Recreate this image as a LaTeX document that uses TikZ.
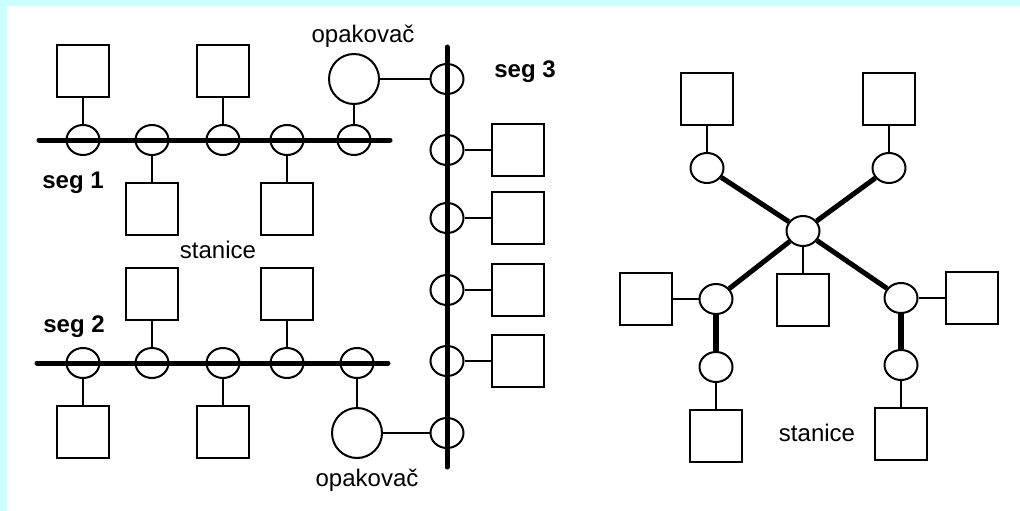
\documentclass[tikz,border=0pt]{standalone}
\usepackage{fontspec}
\setmainfont{Liberation Sans}
\usetikzlibrary{positioning,shapes.geometric}
\definecolor{bgcyan}{RGB}{204,255,255}

\begin{document}
\begin{tikzpicture}[x=1pt, y=-1pt, node distance=26pt and 26pt,
  every node/.style={font=\fontsize{24}{28}\selectfont},
  tap/.style={ellipse,draw,line width=2pt,minimum width=33pt,minimum height=30pt,inner sep=0pt},
  stn/.style={rectangle,draw,line width=2pt,minimum size=52pt,inner sep=0pt},
  rep/.style={circle,draw,line width=2pt,minimum size=50pt,inner sep=0pt},
  bus/.style={line width=5pt,line cap=round},
  trunk/.style={line width=5pt},
  wire/.style={line width=2pt}]
  \useasboundingbox (0,0) rectangle (1020,511);
  \fill[bgcyan] (0,0) rectangle (1020,511);
  \fill[white] (7,6) rectangle (1020,511);

  % seg 1
  \coordinate (s1l) at (39,140);
  \coordinate (s1r) at (390,140);
  \node[tap] (s1t1) at (83,140) {};
  \node[tap] (s1t2) at (152,140) {};
  \node[tap] (s1t3) at (223,140) {};
  \node[tap] (s1t4) at (287,140) {};
  \node[tap] (s1t5) at (354,140) {};
  \node[stn] (s1a) [above=of s1t1] {};
  \node[stn] (s1b) [below=of s1t2] {};
  \node[stn] (s1c) [above=of s1t3] {};
  \node[stn] (s1d) [below=of s1t4] {};
  \node[rep] (rep1) at (354,79) {};
  \draw[bus] (s1l) -- (s1r);
  \draw[wire] (s1a) -- (s1t1);
  \draw[wire] (s1b) -- (s1t2);
  \draw[wire] (s1c) -- (s1t3);
  \draw[wire] (s1d) -- (s1t4);
  \draw[wire] (rep1) -- (s1t5);
  \node[font=\fontsize{24}{28}\selectfont\bfseries] (seg1) at (73,183) {seg 1};
  \node (st1) at (218,250) {stanice};

  % seg 2
  \coordinate (s2l) at (37,363);
  \coordinate (s2r) at (388,363);
  \node[tap] (s2t1) at (83,363) {};
  \node[tap] (s2t2) at (152,363) {};
  \node[tap] (s2t3) at (223,363) {};
  \node[tap] (s2t4) at (287,363) {};
  \node[tap] (s2t5) at (357,363) {};
  \node[stn] (s2a) [below=of s2t1] {};
  \node[stn] (s2b) [above=of s2t2] {};
  \node[stn] (s2c) [below=of s2t3] {};
  \node[stn] (s2d) [above=of s2t4] {};
  \node[rep] (rep2) at (357,433) {};
  \draw[bus] (s2l) -- (s2r);
  \draw[wire] (s2a) -- (s2t1);
  \draw[wire] (s2b) -- (s2t2);
  \draw[wire] (s2c) -- (s2t3);
  \draw[wire] (s2d) -- (s2t4);
  \draw[wire] (rep2) -- (s2t5);
  \node[font=\fontsize{24}{28}\selectfont\bfseries] (seg2) at (74,327) {seg 2};

  % seg 3
  \coordinate (s3top) at (447,47);
  \coordinate (s3bot) at (447,467);
  \node[tap] (s3t1) at (447,79) {};
  \node[tap] (s3t2) at (447,150) {};
  \node[tap] (s3t3) at (447,218) {};
  \node[tap] (s3t4) at (447,290) {};
  \node[tap] (s3t5) at (447,361) {};
  \node[tap] (s3t6) at (447,433) {};
  \node[stn] (s3a) [right=of s3t2] {};
  \node[stn] (s3b) [right=of s3t3] {};
  \node[stn] (s3c) [right=of s3t4] {};
  \node[stn] (s3d) [right=of s3t5] {};
  \draw[bus] (s3top) -- (s3bot);
  \draw[wire] (rep1) -- (s3t1);
  \draw[wire] (s3t2) -- (s3a);
  \draw[wire] (s3t3) -- (s3b);
  \draw[wire] (s3t4) -- (s3c);
  \draw[wire] (s3t5) -- (s3d);
  \draw[wire] (rep2) -- (s3t6);
  \node[font=\fontsize{24}{28}\selectfont\bfseries] (seg3) at (525,72) {seg 3};
  \node (op1) at (363,36) {opakovač};
  \node (op2) at (367,480) {opakovač};

  % hvezda
  \node[tap] (hub) at (803,231) {};
  \node[tap] (tl) at (707,168) {};
  \node[tap] (tr) at (889,168) {};
  \node[tap] (ll) at (716,299) {};
  \node[tap] (lr) at (901,298) {};
  \node[tap] (ll2) at (716,367) {};
  \node[tap] (lr2) at (901,365) {};
  \node[stn] (tla) [above=of tl] {};
  \node[stn] (tra) [above=of tr] {};
  \node[stn] (hba) [below=of hub] {};
  \node[stn] (lla) [left=of ll] {};
  \node[stn] (lra) [right=of lr] {};
  \node[stn] (ll2a) [below=of ll2] {};
  \node[stn] (lr2a) [below=of lr2] {};
  \draw[trunk] (hub) -- (tl);
  \draw[trunk] (hub) -- (tr);
  \draw[trunk] (hub) -- (ll);
  \draw[trunk] (hub) -- (lr);
  \draw[trunk, line width=6pt] (ll) -- (ll2);
  \draw[trunk, line width=6pt] (lr) -- (lr2);
  \draw[wire] (tla) -- (tl);
  \draw[wire] (tra) -- (tr);
  \draw[wire] (hub) -- (hba);
  \draw[wire] (lla) -- (ll);
  \draw[wire] (lr) -- (lra);
  \draw[wire] (ll2) -- (ll2a);
  \draw[wire] (lr2) -- (lr2a);
  \node (st2) at (817,433) {stanice};
\end{tikzpicture}
\end{document}
